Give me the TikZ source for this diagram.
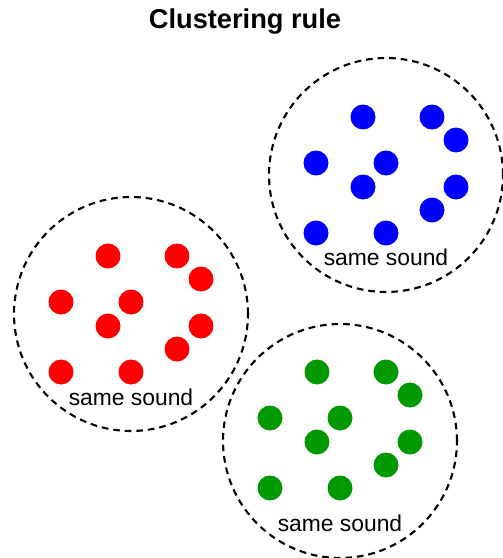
\documentclass[tikz,border=0pt]{standalone}
\usepackage{fontspec}
\setmainfont{Liberation Sans}
\usepackage{xcolor}
\usepackage{tikz}
\definecolor{dotgreen}{RGB}{0,153,0}

\tikzset{
  cluster/.style={draw, circle, dash pattern=on 3.8pt off 2.8pt, line width=1.2pt, minimum size=4.68cm, inner sep=0pt},
  dot/.style={circle, fill=#1, minimum size=0.5cm, inner sep=0pt},
  tag/.style={font=\fontsize{13}{15}\selectfont}
}

\begin{document}
\begin{tikzpicture}[x=0.02cm, y=-0.02cm]
  \useasboundingbox (0,0) rectangle (503,558);
  \node[font=\bfseries\fontsize{15.5}{18}\selectfont] (title) at (245,22) {Clustering rule};

  % blue group
  \node[cluster] (blueset) at (386,175) {};
  \begin{scope}[shift={(386,175)}]
    \foreach \dx/\dy [count=\i] in {-23/-58, 46/-58, 70/-35, -70/-12, 0/-12, -23/12, 70/12, 46/35, -70/58, 0/58}
      \node[dot=blue] (blue\i) at (\dx,\dy) {};
  \end{scope}
  \node[tag] (bluetag) at (386,257) {same sound};

  % red group
  \node[cluster] (redset) at (131,314) {};
  \begin{scope}[shift={(131,314)}]
    \foreach \dx/\dy [count=\i] in {-23/-58, 46/-58, 70/-35, -70/-12, 0/-12, -23/12, 70/12, 46/35, -70/58, 0/58}
      \node[dot=red] (red\i) at (\dx,\dy) {};
  \end{scope}
  \node[tag] (redtag) at (131,397) {same sound};

  % green group
  \node[cluster] (greenset) at (340,441) {};
  \begin{scope}[shift={(340,430)}]
    \foreach \dx/\dy [count=\i] in {-23/-58, 46/-58, 70/-35, -70/-12, 0/-12, -23/12, 70/12, 46/35, -70/58, 0/58}
      \node[dot=dotgreen] (green\i) at (\dx,\dy) {};
  \end{scope}
  \node[tag] (greentag) at (340,523) {same sound};
\end{tikzpicture}
\end{document}
